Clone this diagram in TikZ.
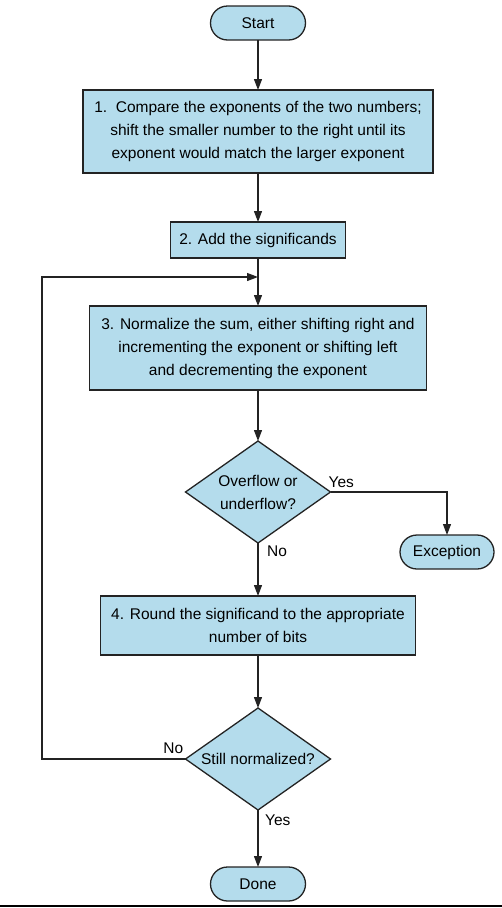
\documentclass[tikz,border=0pt]{standalone}
\usepackage{fontspec}
\setmainfont{Liberation Sans}
\usetikzlibrary{shapes.geometric, shapes.misc, arrows.meta, positioning, calc}
\definecolor{boxblue}{RGB}{180, 220, 236}
\definecolor{bordergray}{RGB}{35, 35, 35}

\begin{document}
\begin{tikzpicture}[
    x=1pt, y=1pt,
    font=\fontsize{15.5}{23}\selectfont,
    node distance=50pt,
    base/.style={draw=bordergray, fill=boxblue, line width=1.3pt, align=center,
                 inner sep=2pt, outer sep=0pt},
    term/.style={base, rounded rectangle, minimum width=99pt, minimum height=34pt},
    proc/.style={base, rectangle},
    decide/.style={base, diamond, shape aspect=1.42, minimum width=145pt, minimum height=102pt, inner sep=0pt},
    arr/.style={-{Triangle[length=11pt, width=8pt]}, draw=bordergray, line width=1.2pt},
    lbl/.style={font=\fontsize{15.5}{18}\selectfont, inner sep=1pt}
]
\useasboundingbox (0,0) rectangle (502,-908);

% =========== main column ===========
\node[term] (start) at (258,-23) {Start};
\node[proc, minimum width=350pt, minimum height=83pt, below=50pt of start] (cmp)
    {1.~~Compare the exponents of the two numbers;\\
     shift the smaller number to the right until its\\
     exponent would match the larger exponent};
\node[proc, minimum width=175pt, minimum height=36pt, below=49pt of cmp] (add)
    {2. Add the significands};
\node[proc, minimum width=337pt, minimum height=84pt, below=48pt of add] (norm)
    {3. Normalize the sum, either shifting right and\\
     incrementing the exponent or shifting left\\
     and decrementing the exponent};
\node[decide, below=51pt of norm] (ovf) {Overflow or\\underflow?};
\node[term, minimum width=98pt] (exc) at (447,-552) {Exception};
\node[proc, minimum width=315pt, minimum height=59pt, below=53pt of ovf] (rnd)
    {4. Round the significand to the appropriate\\
     number of bits};
\node[decide, below=53pt of rnd] (still) {Still normalized?};
\node[term, below=57pt of still] (done) {Done};

% loop-back points
\coordinate (merge) at ([yshift=29pt]norm.north);
\coordinate (loop) at (42,0);

\draw[arr] (start) -- (cmp);
\draw[arr] (cmp)   -- (add);
\draw[arr] (add)   -- (norm);
\draw[arr] (norm)  -- (ovf);
\draw[arr] (ovf.east) -| (exc.north);
\draw[arr] (ovf)   -- (rnd);
\draw[arr] (rnd)   -- (still);
\draw[arr] (still) -- (done);
\draw[arr] (still.west) -| (loop |- merge) -- (merge);

% branch labels
\node[lbl, anchor=south west] at ([xshift=-3pt, yshift=3pt]ovf.east) {Yes};
\node[lbl, anchor=north west] at ([xshift=8pt, yshift=-2pt]ovf.south) {No};
\node[lbl, anchor=south east] at ([xshift=-1pt, yshift=4pt]still.west) {No};
\node[lbl, anchor=north west] at ([xshift=6pt, yshift=-4pt]still.south) {Yes};

% bottom rule
\draw[line width=1.5pt] (0,-906) -- (502,-906);

\end{tikzpicture}
\end{document}
